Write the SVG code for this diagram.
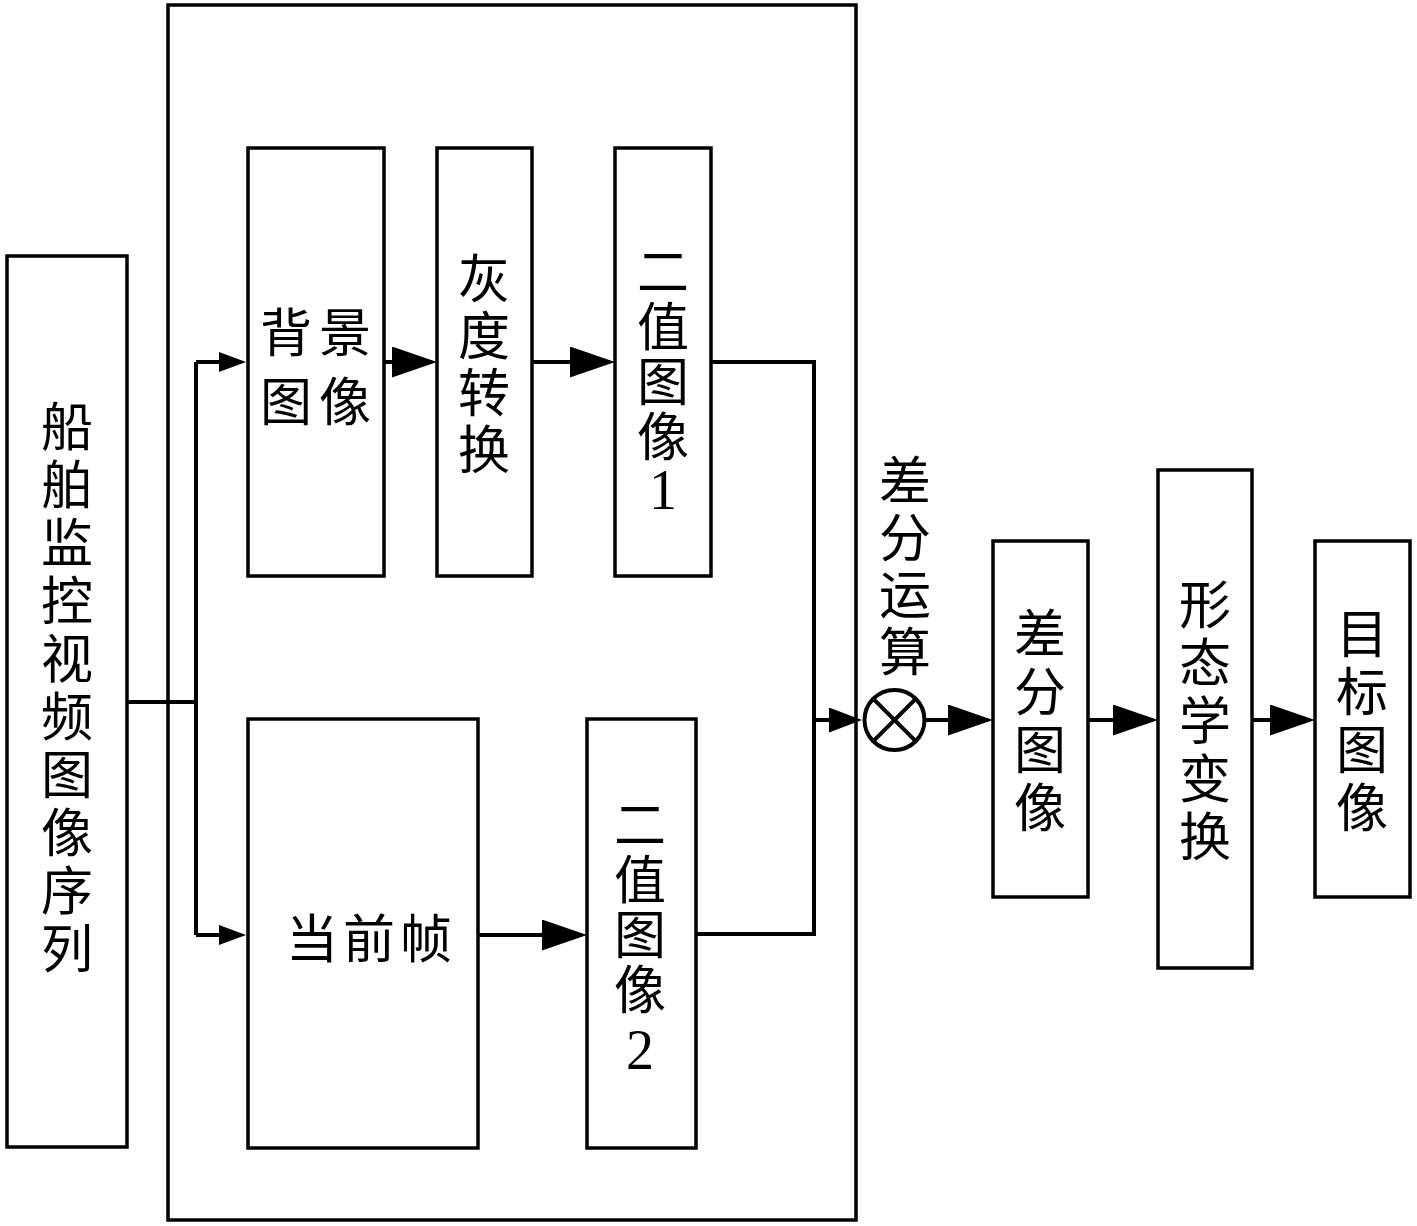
<svg xmlns="http://www.w3.org/2000/svg" width="1417" height="1226" viewBox="0 0 1417 1226">
<style>
.box{fill:#fff;stroke:#000;stroke-width:3.5}
.ln{fill:none;stroke:#000;stroke-width:4}
.t{font-family:"Noto Sans CJK SC","Liberation Serif",serif;font-size:52px;fill:#000;text-anchor:middle;dominant-baseline:central}
.d{font-family:"Liberation Serif",serif;font-size:56px;fill:#000;text-anchor:middle;dominant-baseline:central}
</style>
<defs>
<marker id="big" markerUnits="userSpaceOnUse" markerWidth="46" markerHeight="32" refX="40" refY="15.5" orient="auto"><path d="M0,0 L45,15.5 L0,31 z" fill="#000"/></marker>
<marker id="mid" markerUnits="userSpaceOnUse" markerWidth="34" markerHeight="26" refX="28" refY="12.5" orient="auto"><path d="M0,0 L33,12.5 L0,25 z" fill="#000"/></marker>
<marker id="small" markerUnits="userSpaceOnUse" markerWidth="28" markerHeight="21" refX="22" refY="10" orient="auto"><path d="M0,0 L27,10 L0,20 z" fill="#000"/></marker>
</defs>
<rect width="1417" height="1226" fill="#fff"/>
<g id="outer"><rect class="box" x="168" y="5" width="688" height="1215" fill="none"/></g>
<g id="connectors">
<path class="ln" d="M127,702 H196"/>
<path class="ln" d="M196,362 V935"/>
<path class="ln" d="M196,362 H241" marker-end="url(#small)"/>
<path class="ln" d="M196,935 H241" marker-end="url(#small)"/>
<path class="ln" d="M384,362 H432" marker-end="url(#big)"/>
<path class="ln" d="M532,362 H610" marker-end="url(#big)"/>
<path class="ln" d="M478,935 H582" marker-end="url(#big)"/>
<path class="ln" d="M711,362 H814 V934 H696"/>
<path class="ln" d="M814,720 H857" marker-end="url(#mid)"/>
<path class="ln" d="M926,720 H988" marker-end="url(#big)"/>
<path class="ln" d="M1088,720 H1153" marker-end="url(#big)"/>
<path class="ln" d="M1252,720 H1310" marker-end="url(#big)"/>
</g>
<g id="seq"><rect class="box" x="7" y="256" width="120" height="891"/>
<text class="t"><tspan x="67" y="423">船</tspan><tspan x="67" y="481">舶</tspan><tspan x="67" y="539">监</tspan><tspan x="67" y="597">控</tspan><tspan x="67" y="655">视</tspan><tspan x="67" y="713">频</tspan><tspan x="67" y="771">图</tspan><tspan x="67" y="829">像</tspan><tspan x="67" y="887">序</tspan><tspan x="67" y="945">列</tspan></text></g>
<g id="bg"><rect class="box" x="248" y="148" width="136" height="428"/>
<text class="t"><tspan x="286" y="329">背</tspan><tspan x="345" y="329">景</tspan><tspan x="286" y="398">图</tspan><tspan x="345" y="398">像</tspan></text></g>
<g id="gray"><rect class="box" x="437" y="148" width="95" height="428"/>
<text class="t"><tspan x="484" y="275">灰</tspan><tspan x="484" y="332">度</tspan><tspan x="484" y="389">转</tspan><tspan x="484" y="446">换</tspan></text></g>
<g id="bin1"><rect class="box" x="615" y="148" width="96" height="428"/>
<text class="t"><tspan x="663" y="268">二</tspan><tspan x="663" y="323">值</tspan><tspan x="663" y="378">图</tspan><tspan x="663" y="433">像</tspan></text>
<text class="d" x="663" y="490">1</text></g>
<g id="cur"><rect class="box" x="248" y="719" width="230" height="429"/>
<text class="t"><tspan x="312" y="935">当</tspan><tspan x="369" y="935">前</tspan><tspan x="426" y="935">帧</tspan></text></g>
<g id="bin2"><rect class="box" x="587" y="719" width="109" height="429"/>
<text class="t"><tspan x="640" y="821">二</tspan><tspan x="640" y="876">值</tspan><tspan x="640" y="931">图</tspan><tspan x="640" y="986">像</tspan></text>
<text class="d" x="640" y="1050">2</text></g>
<g id="op"><circle cx="894.5" cy="720" r="30" fill="#fff" stroke="#000" stroke-width="4"/>
<path class="ln" d="M873.3,698.8 L915.7,741.2 M915.7,698.8 L873.3,741.2" stroke-width="3.5"/>
<text class="t"><tspan x="905" y="477">差</tspan><tspan x="905" y="534">分</tspan><tspan x="905" y="591">运</tspan><tspan x="905" y="648">算</tspan></text></g>
<g id="diff"><rect class="box" x="993" y="541" width="95" height="356"/>
<text class="t"><tspan x="1040" y="630">差</tspan><tspan x="1040" y="688">分</tspan><tspan x="1040" y="746">图</tspan><tspan x="1040" y="804">像</tspan></text></g>
<g id="morph"><rect class="box" x="1158" y="470" width="94" height="498"/>
<text class="t"><tspan x="1205" y="601">形</tspan><tspan x="1205" y="659">态</tspan><tspan x="1205" y="717">学</tspan><tspan x="1205" y="775">变</tspan><tspan x="1205" y="833">换</tspan></text></g>
<g id="target"><rect class="box" x="1315" y="541" width="95" height="356"/>
<text class="t"><tspan x="1362" y="630">目</tspan><tspan x="1362" y="688">标</tspan><tspan x="1362" y="746">图</tspan><tspan x="1362" y="804">像</tspan></text></g>
</svg>
